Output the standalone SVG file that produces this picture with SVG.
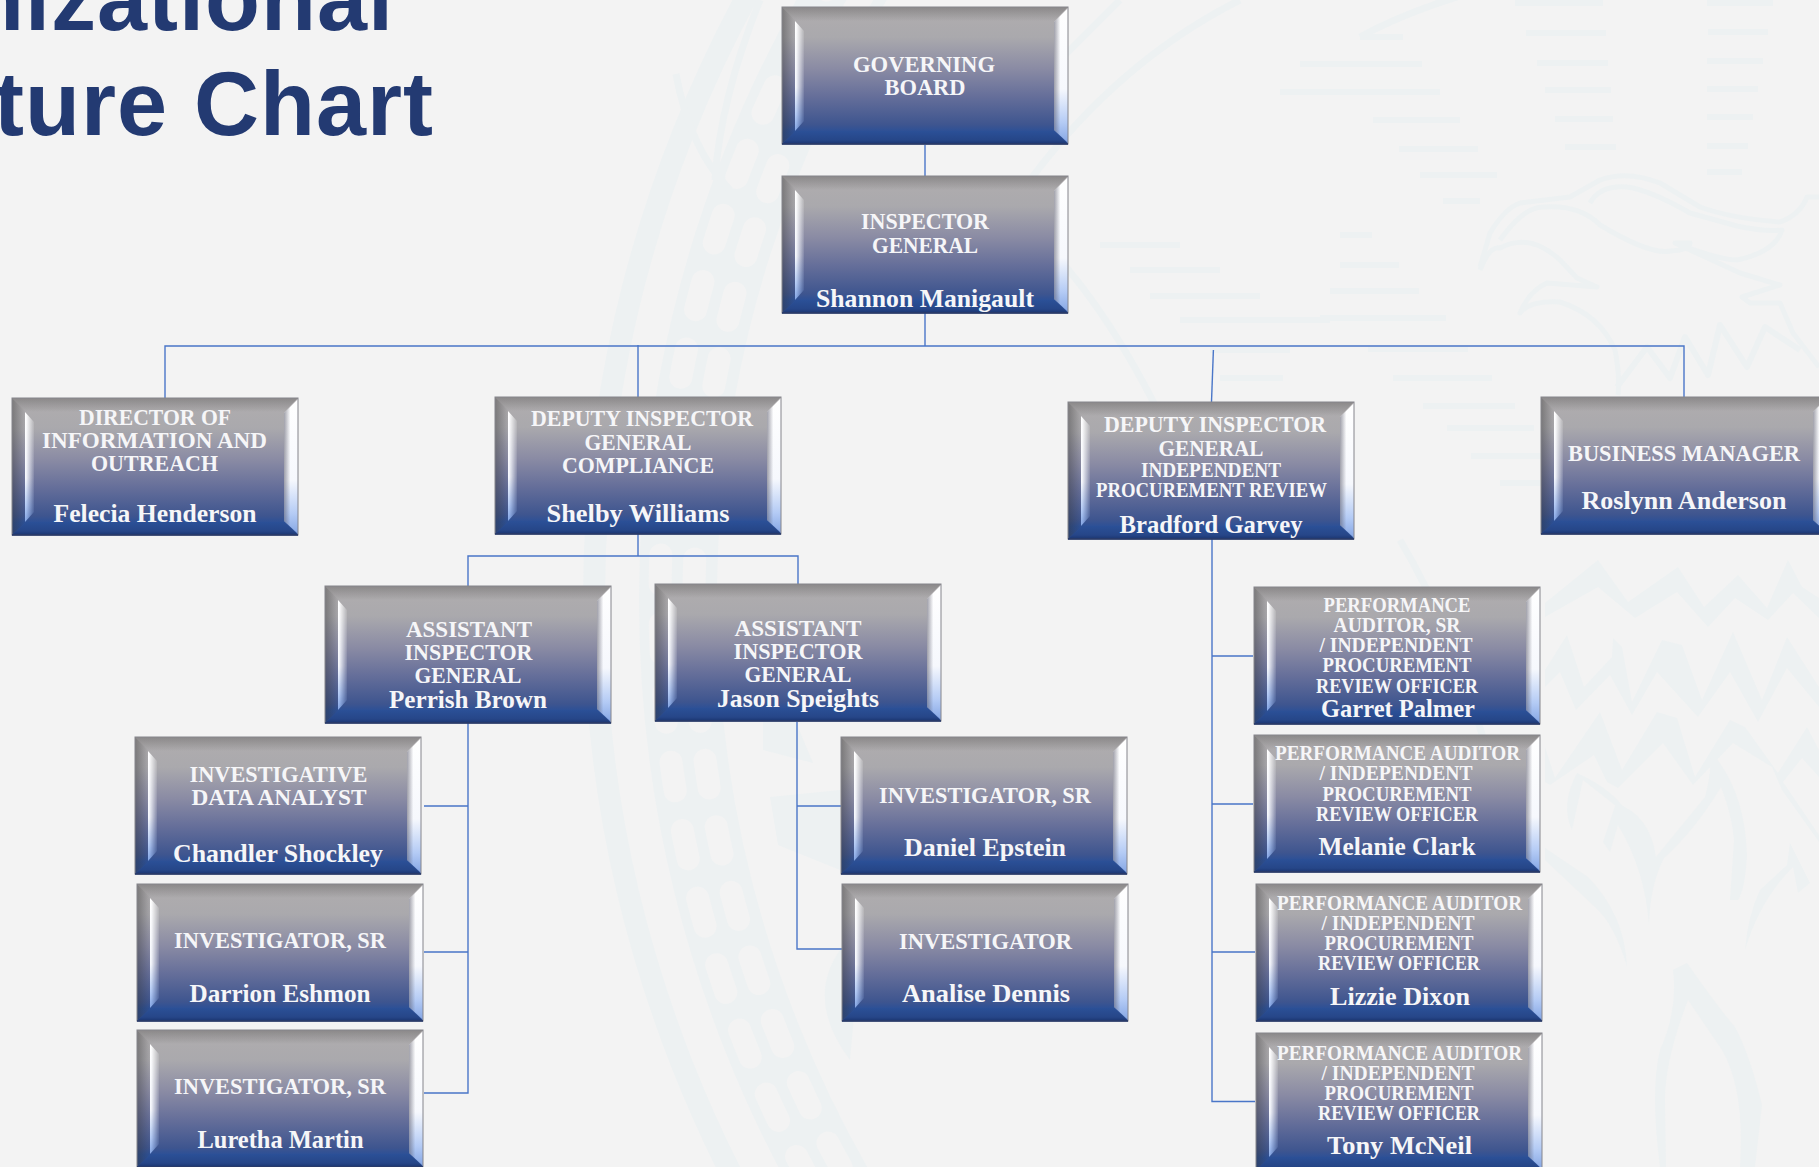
<svg xmlns="http://www.w3.org/2000/svg" width="1819" height="1167" viewBox="0 0 1819 1167">
<style>
text{font-family:"Liberation Serif","Times New Roman",serif;font-weight:700;fill:#f6f6f8;text-anchor:middle}
.t{font-size:23px}.s{font-size:20px}.n{font-size:26px}
.title{font-family:"Liberation Sans",Arial,sans-serif;font-size:90px;fill:#233a72;text-anchor:end;letter-spacing:1px}
.wm{fill:#edf1f2;stroke:none}
.wl{fill:none;stroke:#edf1f2;stroke-linejoin:round}
#conn path{fill:none;stroke:#4a76c8;stroke-width:1.4}
</style>
<defs>
<linearGradient id="body" x1="0" y1="0" x2="0" y2="1"><stop offset="0" stop-color="#b0adae"/><stop offset=".22" stop-color="#aaa9ad"/><stop offset=".45" stop-color="#8a8ba4"/><stop offset=".65" stop-color="#666f9a"/><stop offset=".86" stop-color="#3e558f"/><stop offset=".91" stop-color="#2c5097"/><stop offset="1" stop-color="#2a4c92"/></linearGradient>
<linearGradient id="hi" x1="0" y1="0" x2="0" y2="1"><stop offset="0" stop-color="#fff"/><stop offset=".6" stop-color="#f6f8fd"/><stop offset=".85" stop-color="#b4cbf5"/><stop offset="1" stop-color="#85a6e4"/></linearGradient>
<linearGradient id="dimL" x1="0" y1="0" x2="1" y2="0"><stop offset="0" stop-color="#333" stop-opacity=".42"/><stop offset="1" stop-color="#333" stop-opacity="0"/></linearGradient>
<linearGradient id="dimR" x1="0" y1="0" x2="1" y2="0"><stop offset="0" stop-color="#556" stop-opacity=".55"/><stop offset=".45" stop-color="#556" stop-opacity="0"/></linearGradient>
<linearGradient id="dimT" x1="0" y1="0" x2="0" y2="1"><stop offset="0" stop-color="#333" stop-opacity=".3"/><stop offset="1" stop-color="#333" stop-opacity="0"/></linearGradient>
<linearGradient id="bot" x1="0" y1="0" x2="0" y2="1"><stop offset="0" stop-color="#2b5097"/><stop offset=".7" stop-color="#264688"/><stop offset="1" stop-color="#1b3570"/></linearGradient>
<linearGradient id="fadeL" gradientUnits="userSpaceOnUse" x1="14" y1="0" x2="23" y2="0"><stop offset="0" stop-color="#fff"/><stop offset="1" stop-color="#000"/></linearGradient>
<mask id="mL" maskUnits="userSpaceOnUse" x="0" y="0" width="40" height="138"><rect width="40" height="138" fill="url(#fadeL)"/></mask>
<g id="box">
<rect x="0" y="0" width="286" height="137" fill="url(#body)"/>
<path d="M0 0L14 14V124L0 137Z" fill="url(#dimL)"/>
<path d="M0 0H286L272 14H14Z" fill="url(#dimT)"/>
<path d="M0 137H286L272 124H14Z" fill="url(#bot)"/>
<path d="M13 14L22 24V114L13 124Z" fill="url(#hi)" mask="url(#mL)"/>
<path d="M286 1V136L272 123V15Z" fill="url(#hi)"/>
<path d="M286 1V136L272 123V15Z" fill="url(#dimR)"/>
<rect x="0" y="0" width="286" height="137" fill="none" stroke="#85858c" stroke-width="1"/>
<path d="M0 137H286" stroke="#1b2f63" stroke-width="1.4" fill="none"/>
</g>
</defs>
<rect id="bg" width="1819" height="1167" fill="#f3f3f3"/>
<g id="watermark">
<circle class="wl" cx="1862" cy="600" r="1268" stroke-width="22"/>
<circle class="wl" cx="1862" cy="600" r="1184" stroke-width="78"/>
<circle cx="1862" cy="600" r="1202" fill="none" stroke="#f3f3f3" stroke-width="23" stroke-linecap="round" stroke-dasharray="29 40.29" stroke-dashoffset="19"/>
<circle cx="1862" cy="600" r="1168" fill="none" stroke="#f3f3f3" stroke-width="23" stroke-linecap="round" stroke-dasharray="28 39.33" stroke-dashoffset="21"/>
<path class="wl" stroke-width="6" d="M1707 3H1773M1708 32H1768M1707 61H1763M1707 89H1758M1707 117H1753M1707 146H1748M1707 172H1742M1515 3H1603M1526 33H1606M1537 63H1608M1545 90H1611M1555 119H1613M1565 147H1616M1360 37H1403M1300 64H1422M1280 92H1440M1373 120H1460M1399 149H1478M1420 175H1497M1443 201H1480M1340 235H1372M1340 265H1399M1330 291H1419M1320 318H1446M1368 349H1468M1393 378H1492M1423 406H1515M1447 428H1534M1471 456H1554M1500 483H1568M1220 378H1283M1210 350H1290M1100 245H1180M1130 270H1220M1150 296H1260M1180 320H1330"/>
<path class="wl" stroke-width="5" d="M1480 267L1490 233Q1505 208 1520 203L1570 197L1600 180Q1627 170 1660 183L1700 207Q1730 218 1780 222Q1800 215 1807 197H1819M1500 240Q1525 205 1545 207Q1580 205 1600 225Q1650 255 1670 251Q1690 250 1690 243L1675 243L1740 273L1780 285L1742 297L1750 303H1780L1793 333L1819 367M1480 270Q1490 245 1500 248Q1530 232 1560 260L1577 278L1597 287L1547 283Q1530 290 1520 313Q1530 300 1560 302Q1600 315 1615 350Q1620 375 1618 395M1590 203Q1600 185 1627 187Q1650 190 1690 213L1737 226Q1765 232 1782 230Q1775 252 1737 260Q1720 260 1675 243"/>
<path class="wl" stroke-width="6" d="M1617 387L1647 347L1670 378L1685 337L1708 375L1720 325L1747 367L1765 327L1800 350"/>
<path class="wl" stroke-width="7" d="M1360 37Q1400 15 1457 -3M1120 0L1000 120M1240 0Q1120 60 1030 180M676 74Q690 150 730 190M760 0Q720 100 715 180M1060 260Q1130 340 1190 480M1400 540Q1460 640 1500 800"/>
<path class="wm" d="M1545 603L1598 560L1628 602L1678 567L1704 607L1738 575L1767 608L1788 560L1802 587L1819 598V618L1793 593L1768 620L1735 598L1708 627L1677 592L1635 618L1598 587L1545 617Z"/>
<path class="wm" d="M1545 670L1567 635L1584 687L1612 657L1613 638L1622 647L1632 702L1662 640L1682 645L1702 700L1733 632L1762 700L1787 637L1819 687V707L1787 668L1758 722L1730 672L1698 717L1657 672L1632 715L1610 675L1576 710L1560 672L1545 687Z"/>
<path class="wm" d="M1545 747L1555 778L1600 712L1622 770L1657 712L1677 718L1695 777L1730 720L1745 727L1778 773L1807 727L1819 750V777L1802 758L1783 782L1819 835V842L1782 790L1772 767L1733 743L1693 785L1663 743L1618 788L1607 782L1594 755L1550 785L1545 782Z"/>
<path class="wm" d="M1577 773Q1615 790 1630 817L1583 780L1572 830Q1560 805 1577 773Z"/>
<path class="wm" d="M1616 803Q1650 815 1656 857L1705 797Q1711 775 1711 752Q1745 790 1747 855Q1745 890 1738 900H1730L1734 840Q1732 815 1721 787Q1695 830 1664 858Q1650 885 1649 925Q1645 870 1618 825L1610 852L1603 842Z"/>
<path class="wm" d="M1790 843L1810 883L1798 893L1793 867Q1760 900 1745 950Q1748 915 1760 890L1787 865Z"/>
<path class="wm" d="M1545 848L1588 877Q1625 915 1627 967Q1615 925 1595 907L1545 860Z"/>
<path class="wm" d="M1687 963Q1720 1010 1735 1027Q1750 1055 1762 1105L1755 1167H1740Q1745 1090 1722 1050L1688 1000Q1665 1060 1665 1100L1666 1167H1660Q1650 1090 1660 1050Q1678 1010 1673 970Z"/>
<path class="wm" d="M763 720V750L813 763L795 720ZM770 797L778 845L840 870V790ZM840 950Q805 1000 850 1060L860 950Z"/>
</g>
<g id="title"><text class="title" x="394" y="30">nizational</text><text class="title" x="434" y="135">ture Chart</text></g>
<g id="conn">
<path d="M925 145V176M925 313V346M165 398V346H1684V397M638 345V397"/>
<path d="M1213.4 350L1211.5 402"/>
<path d="M638 534V556M468 586V556H798V584"/>
<path d="M468 723V1093H424M468 806H424M468 952H424"/>
<path d="M797 722V949H842M797 806H841"/>
<path d="M1212 539V1101.5H1255M1212 656H1253M1212 804H1253M1212 952H1255"/>
</g>
<g id="governing-board"><use href="#box" x="782" y="7"/><text class="t" x="924" y="72" textLength="142" lengthAdjust="spacingAndGlyphs">GOVERNING</text><text class="t" x="925" y="95" textLength="81" lengthAdjust="spacingAndGlyphs">BOARD</text></g>
<g id="inspector-general"><use href="#box" x="782" y="176"/><text class="t" x="925" y="229" textLength="128" lengthAdjust="spacingAndGlyphs">INSPECTOR</text><text class="t" x="925" y="253" textLength="106" lengthAdjust="spacingAndGlyphs">GENERAL</text><text class="n" x="925" y="307" textLength="218" lengthAdjust="spacingAndGlyphs">Shannon Manigault</text></g>
<g id="director-info"><use href="#box" x="12" y="398"/><text class="t" x="155" y="425" textLength="152" lengthAdjust="spacingAndGlyphs">DIRECTOR OF</text><text class="t" x="154.5" y="448" textLength="225" lengthAdjust="spacingAndGlyphs">INFORMATION AND</text><text class="t" x="154.5" y="471" textLength="127" lengthAdjust="spacingAndGlyphs">OUTREACH</text><text class="n" x="155" y="522" textLength="203" lengthAdjust="spacingAndGlyphs">Felecia Henderson</text></g>
<g id="deputy-compliance"><use href="#box" x="495" y="397"/><text class="t" x="642" y="426" textLength="222" lengthAdjust="spacingAndGlyphs">DEPUTY INSPECTOR</text><text class="t" x="638" y="450" textLength="107" lengthAdjust="spacingAndGlyphs">GENERAL</text><text class="t" x="638" y="473" textLength="152" lengthAdjust="spacingAndGlyphs">COMPLIANCE</text><text class="n" x="638" y="522" textLength="183" lengthAdjust="spacingAndGlyphs">Shelby Williams</text></g>
<g id="deputy-ipr"><use href="#box" x="1068" y="402"/><text class="t" x="1215" y="432" textLength="222" lengthAdjust="spacingAndGlyphs">DEPUTY INSPECTOR</text><text class="t" x="1211" y="456" textLength="105" lengthAdjust="spacingAndGlyphs">GENERAL</text><text class="s" x="1211" y="477" textLength="140" lengthAdjust="spacingAndGlyphs">INDEPENDENT</text><text class="s" x="1211.5" y="497" textLength="231" lengthAdjust="spacingAndGlyphs">PROCUREMENT REVIEW</text><text class="n" x="1211" y="533" textLength="183" lengthAdjust="spacingAndGlyphs">Bradford Garvey</text></g>
<g id="business-manager"><use href="#box" x="1541" y="397"/><text class="t" x="1684" y="461" textLength="232" lengthAdjust="spacingAndGlyphs">BUSINESS MANAGER</text><text class="n" x="1684" y="509" textLength="205" lengthAdjust="spacingAndGlyphs">Roslynn Anderson</text></g>
<g id="aig-brown"><use href="#box" x="325" y="586"/><text class="t" x="469" y="637" textLength="126" lengthAdjust="spacingAndGlyphs">ASSISTANT</text><text class="t" x="468.5" y="660" textLength="128" lengthAdjust="spacingAndGlyphs">INSPECTOR</text><text class="t" x="468" y="683" textLength="107" lengthAdjust="spacingAndGlyphs">GENERAL</text><text class="n" x="468" y="708" textLength="158" lengthAdjust="spacingAndGlyphs">Perrish Brown</text></g>
<g id="aig-speights"><use href="#box" x="655" y="584"/><text class="t" x="798" y="636" textLength="127" lengthAdjust="spacingAndGlyphs">ASSISTANT</text><text class="t" x="798" y="659" textLength="129" lengthAdjust="spacingAndGlyphs">INSPECTOR</text><text class="t" x="798" y="682" textLength="107" lengthAdjust="spacingAndGlyphs">GENERAL</text><text class="n" x="798" y="707" textLength="162" lengthAdjust="spacingAndGlyphs">Jason Speights</text></g>
<g id="data-analyst"><use href="#box" x="135" y="737"/><text class="t" x="278.5" y="782" textLength="178" lengthAdjust="spacingAndGlyphs">INVESTIGATIVE</text><text class="t" x="279" y="805" textLength="175" lengthAdjust="spacingAndGlyphs">DATA ANALYST</text><text class="n" x="278" y="862" textLength="210" lengthAdjust="spacingAndGlyphs">Chandler Shockley</text></g>
<g id="inv-eshmon"><use href="#box" x="137" y="884"/><text class="t" x="280" y="948" textLength="212" lengthAdjust="spacingAndGlyphs">INVESTIGATOR, SR</text><text class="n" x="280" y="1002" textLength="181" lengthAdjust="spacingAndGlyphs">Darrion Eshmon</text></g>
<g id="inv-martin"><use href="#box" x="137" y="1030"/><text class="t" x="280" y="1094" textLength="212" lengthAdjust="spacingAndGlyphs">INVESTIGATOR, SR</text><text class="n" x="280.5" y="1148" textLength="166" lengthAdjust="spacingAndGlyphs">Luretha Martin</text></g>
<g id="inv-epstein"><use href="#box" x="841" y="737"/><text class="t" x="985" y="803" textLength="212" lengthAdjust="spacingAndGlyphs">INVESTIGATOR, SR</text><text class="n" x="985" y="856" textLength="162" lengthAdjust="spacingAndGlyphs">Daniel Epstein</text></g>
<g id="inv-dennis"><use href="#box" x="842" y="884"/><text class="t" x="985.5" y="949" textLength="173" lengthAdjust="spacingAndGlyphs">INVESTIGATOR</text><text class="n" x="986" y="1002" textLength="168" lengthAdjust="spacingAndGlyphs">Analise Dennis</text></g>
<g id="pa-palmer"><use href="#box" x="1254" y="587"/><text class="s" x="1397" y="612" textLength="147" lengthAdjust="spacingAndGlyphs">PERFORMANCE</text><text class="s" x="1397" y="632" textLength="127" lengthAdjust="spacingAndGlyphs">AUDITOR, SR</text><text class="s" x="1396" y="652" textLength="153" lengthAdjust="spacingAndGlyphs">/ INDEPENDENT</text><text class="s" x="1397" y="672" textLength="149" lengthAdjust="spacingAndGlyphs">PROCUREMENT</text><text class="s" x="1397" y="693" textLength="162" lengthAdjust="spacingAndGlyphs">REVIEW OFFICER</text><text class="n" x="1398" y="717" textLength="154" lengthAdjust="spacingAndGlyphs">Garret Palmer</text></g>
<g id="pa-clark"><use href="#box" x="1254" y="735"/><text class="s" x="1397.5" y="760" textLength="245" lengthAdjust="spacingAndGlyphs">PERFORMANCE AUDITOR</text><text class="s" x="1396" y="780" textLength="153" lengthAdjust="spacingAndGlyphs">/ INDEPENDENT</text><text class="s" x="1397" y="801" textLength="149" lengthAdjust="spacingAndGlyphs">PROCUREMENT</text><text class="s" x="1397" y="821" textLength="162" lengthAdjust="spacingAndGlyphs">REVIEW OFFICER</text><text class="n" x="1397" y="855" textLength="157" lengthAdjust="spacingAndGlyphs">Melanie Clark</text></g>
<g id="pa-dixon"><use href="#box" x="1256" y="884"/><text class="s" x="1399.5" y="909.5" textLength="245" lengthAdjust="spacingAndGlyphs">PERFORMANCE AUDITOR</text><text class="s" x="1398" y="930" textLength="153" lengthAdjust="spacingAndGlyphs">/ INDEPENDENT</text><text class="s" x="1399" y="950" textLength="149" lengthAdjust="spacingAndGlyphs">PROCUREMENT</text><text class="s" x="1399" y="970" textLength="162" lengthAdjust="spacingAndGlyphs">REVIEW OFFICER</text><text class="n" x="1400" y="1005" textLength="140" lengthAdjust="spacingAndGlyphs">Lizzie Dixon</text></g>
<g id="pa-mcneil"><use href="#box" x="1256" y="1033"/><text class="s" x="1399.5" y="1060" textLength="245" lengthAdjust="spacingAndGlyphs">PERFORMANCE AUDITOR</text><text class="s" x="1398" y="1080" textLength="153" lengthAdjust="spacingAndGlyphs">/ INDEPENDENT</text><text class="s" x="1399" y="1100" textLength="149" lengthAdjust="spacingAndGlyphs">PROCUREMENT</text><text class="s" x="1399" y="1120" textLength="162" lengthAdjust="spacingAndGlyphs">REVIEW OFFICER</text><text class="n" x="1399.5" y="1154" textLength="145" lengthAdjust="spacingAndGlyphs">Tony McNeil</text></g>
</svg>
